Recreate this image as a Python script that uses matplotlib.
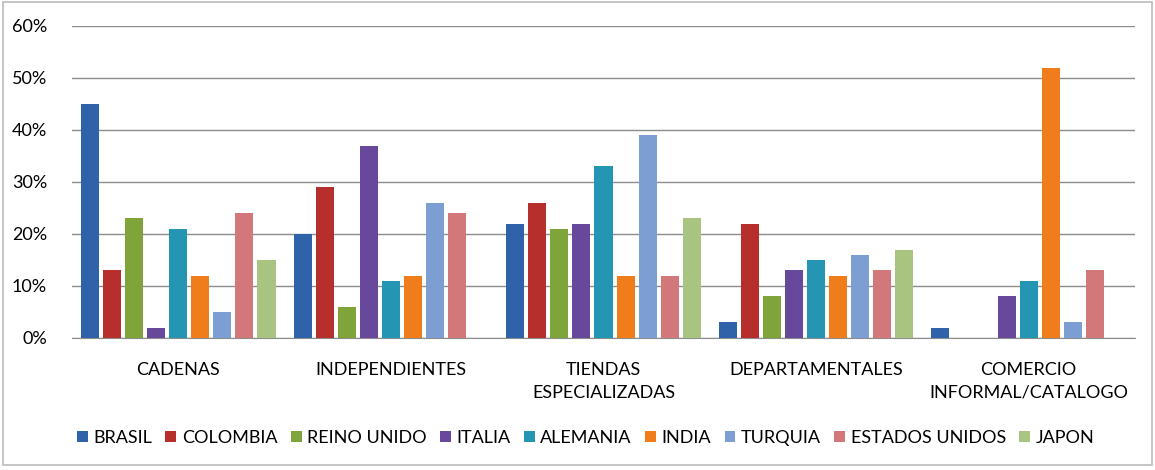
import numpy as np
import matplotlib
matplotlib.use("Agg")
import matplotlib.pyplot as plt
from matplotlib.patches import Rectangle

plt.rcParams['font.family'] = ['Lato', 'DejaVu Sans']

categories = ['CADENAS', 'INDEPENDIENTES', 'TIENDAS\nESPECIALIZADAS',
              'DEPARTAMENTALES', 'COMERCIO\nINFORMAL/CATALOGO']
countries = ['BRASIL', 'COLOMBIA', 'REINO UNIDO', 'ITALIA', 'ALEMANIA',
             'INDIA', 'TURQUIA', 'ESTADOS UNIDOS', 'JAPON']

brasil = [45, 20, 22, 3, 2]
colombia = [13, 29, 26, 22, 0]
reino_unido = [23, 6, 21, 8, 0]
italia = [2, 37, 22, 13, 8]
alemania = [21, 11, 33, 15, 11]
india = [12, 12, 12, 12, 52]
turquia = [5, 26, 39, 16, 3]
estados_unidos = [24, 24, 12, 13, 13]
japon = [15, 0, 23, 17, 0]

series = [brasil, colombia, reino_unido, italia, alemania,
          india, turquia, estados_unidos, japon]
colors = ['#2F62A8', '#B62F2C', '#7FA53A', '#68489A', '#2595B4',
          '#F07D1C', '#7C9ED3', '#D2787A', '#A8C480']

fig = plt.figure(figsize=(11.55, 4.7), dpi=100)
ax = fig.add_axes([0.0623, 0.2809, 0.9204, 0.6638])

x = np.arange(len(categories))
pitch = 22 / 212
width = 18 / 212
for i, (vals, c, name) in enumerate(zip(series, colors, countries)):
    offs = (i - 4) * pitch
    ax.bar(x + offs, vals, width=width, color=c, label=name, zorder=3)

ax.set_xlim(-0.5, len(categories) - 0.5)
ax.set_ylim(0, 60)
ax.set_yticks(range(0, 61, 10))
ax.set_yticklabels([f'{v}%' for v in range(0, 61, 10)], fontsize=13)
ax.yaxis.grid(True, color='#8c8c8c', linewidth=1.0, zorder=0)
ax.tick_params(axis='y', length=0, pad=18)
ax.tick_params(axis='x', length=0, pad=17)
ax.set_xticks(x)
ax.set_xticklabels(categories, fontsize=13, linespacing=1.55)
for s in ['top', 'right', 'left']:
    ax.spines[s].set_visible(False)
ax.spines['bottom'].set_color('#8c8c8c')

fig.legend(loc='center', bbox_to_anchor=(0.507, 0.068), ncol=9, frameon=False,
           fontsize=13, handlelength=0.6, handleheight=0.6,
           handletextpad=0.3, columnspacing=0.75)

fig.patches.append(Rectangle((0.003, 0.01), 0.994, 0.985, transform=fig.transFigure,
                             fill=False, edgecolor='#bbbbbb', linewidth=1.2))

fig.savefig('out.png', dpi=100)
